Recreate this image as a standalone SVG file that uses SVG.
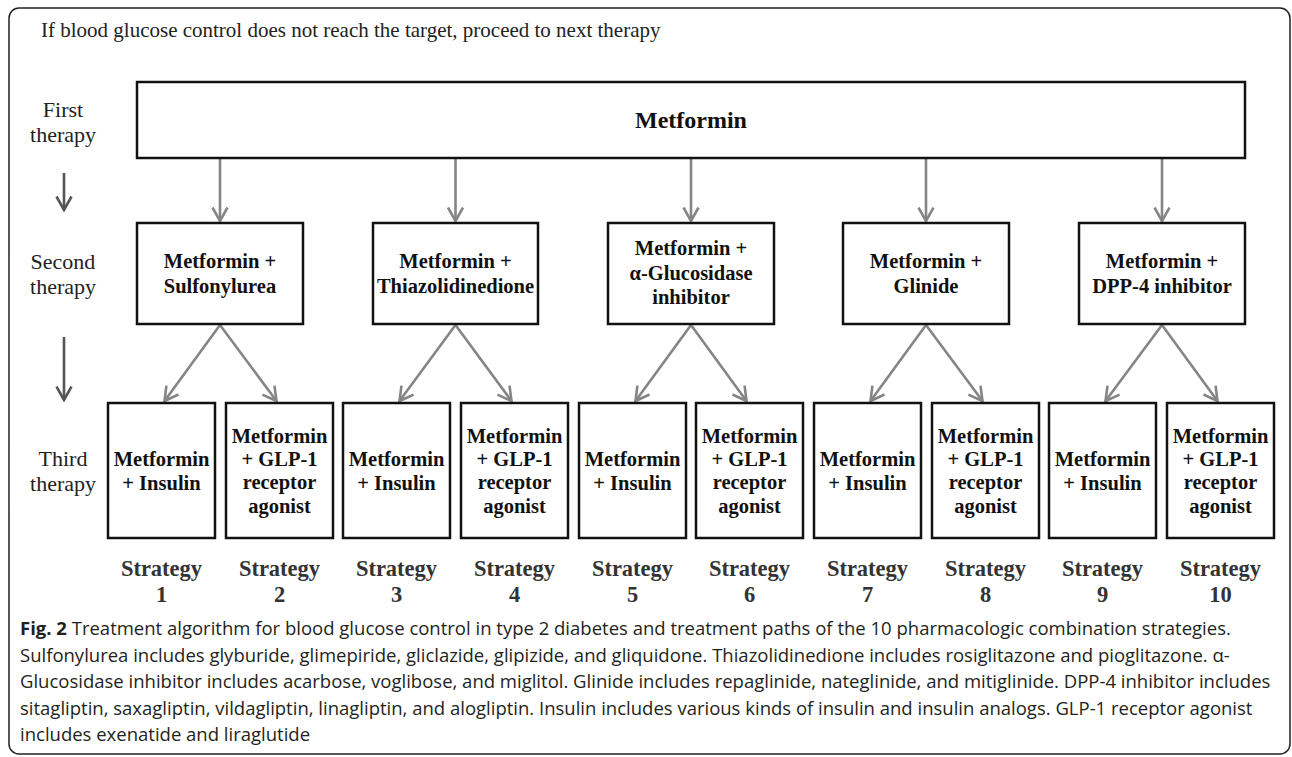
<svg xmlns="http://www.w3.org/2000/svg" width="1292" height="757" viewBox="0 0 1292 757">
<defs>
<style>
.frame{fill:none;stroke:#222;stroke-width:1.5}
.box{fill:#fff;stroke:#111;stroke-width:2.5}
.bt{font-family:"Liberation Serif","Times New Roman",serif;font-weight:bold;font-size:20.5px;fill:#111;text-anchor:middle}
.big{font-size:24px}
.lab{font-family:"Liberation Serif","Times New Roman",serif;font-size:22px;fill:#222;text-anchor:middle}
.title{font-family:"Liberation Serif","Times New Roman",serif;font-size:21px;fill:#222}
.st{font-family:"Liberation Serif","Times New Roman",serif;font-weight:bold;font-size:22.5px;fill:#333;text-anchor:middle}
.cap{font-family:"Open Sans","Noto Sans",sans-serif;font-size:18.5px;fill:#231f20}
.con{stroke:#858585;stroke-width:2.6;fill:none;marker-end:url(#ah)}
.lar{stroke:#555;stroke-width:2.6;fill:none;marker-end:url(#ahd)}
</style>
<marker id="ah" viewBox="0 0 16 18" refX="14.5" refY="9" markerWidth="16" markerHeight="18" markerUnits="userSpaceOnUse" orient="auto">
<path d="M1,1.5 L14.5,9 L1,16.5" fill="none" stroke="#858585" stroke-width="2.6"/>
</marker>
<marker id="ahd" viewBox="0 0 16 18" refX="14.5" refY="9" markerWidth="16" markerHeight="18" markerUnits="userSpaceOnUse" orient="auto">
<path d="M1,1.5 L14.5,9 L1,16.5" fill="none" stroke="#555" stroke-width="2.6"/>
</marker>
</defs>
<rect width="1292" height="757" fill="#fff"/>
<rect class="frame" x="9" y="8" width="1281" height="746" rx="10"/>
<text class="title" x="41" y="37">If blood glucose control does not reach the target, proceed to next therapy</text>
<g id="row-labels">
<text class="lab" x="63" y="117">First</text>
<text class="lab" x="63" y="142">therapy</text>
<text class="lab" x="63" y="269">Second</text>
<text class="lab" x="63" y="294">therapy</text>
<text class="lab" x="63" y="466">Third</text>
<text class="lab" x="63" y="491">therapy</text>
<path class="lar" d="M64,173 L64,210"/>
<path class="lar" d="M64,337 L64,400"/>
</g>
<g id="connectors">
<path class="con" d="M220,159 L220,221"/>
<path class="con" d="M455.5,159 L455.5,221"/>
<path class="con" d="M691,159 L691,221"/>
<path class="con" d="M926,159 L926,221"/>
<path class="con" d="M1162,159 L1162,221"/>
<path class="con" d="M220,325 L164.5,401"/>
<path class="con" d="M220,325 L276.5,401"/>
<path class="con" d="M455.5,325 L399.5,401"/>
<path class="con" d="M455.5,325 L511.5,401"/>
<path class="con" d="M691,325 L635.5,401"/>
<path class="con" d="M691,325 L746.5,401"/>
<path class="con" d="M926,325 L870.5,401"/>
<path class="con" d="M926,325 L982.5,401"/>
<path class="con" d="M1162,325 L1105.5,401"/>
<path class="con" d="M1162,325 L1217.5,401"/>
</g>
<g id="metformin">
<rect class="box" x="137" y="82" width="1108" height="76"/>
<text class="bt big" x="691" y="128">Metformin</text>
</g>
<g id="second-1">
<rect class="box" x="137" y="223" width="166" height="101"/>
<text class="bt" x="220" y="268">Metformin +</text>
<text class="bt" x="220" y="293">Sulfonylurea</text>
</g>
<g id="second-2">
<rect class="box" x="373" y="223" width="165" height="101"/>
<text class="bt" x="455.5" y="268">Metformin +</text>
<text class="bt" x="455.5" y="293">Thiazolidinedione</text>
</g>
<g id="second-3">
<rect class="box" x="608" y="223" width="166" height="101"/>
<text class="bt" x="691" y="255">Metformin +</text>
<text class="bt" x="691" y="280">α-Glucosidase</text>
<text class="bt" x="691" y="304">inhibitor</text>
</g>
<g id="second-4">
<rect class="box" x="843" y="223" width="166" height="101"/>
<text class="bt" x="926" y="268">Metformin +</text>
<text class="bt" x="926" y="293">Glinide</text>
</g>
<g id="second-5">
<rect class="box" x="1079" y="223" width="166" height="101"/>
<text class="bt" x="1162" y="268">Metformin +</text>
<text class="bt" x="1162" y="293">DPP-4 inhibitor</text>
</g>
<g id="s1"><rect class="box" x="108" y="403" width="107" height="135"/><text class="bt" x="161.5" y="466">Metformin</text><text class="bt" x="161.5" y="490">+ Insulin</text></g>
<g id="s2"><rect class="box" x="226" y="403" width="107" height="135"/><text class="bt" x="279.5" y="443">Metformin</text><text class="bt" x="279.5" y="466">+ GLP-1</text><text class="bt" x="279.5" y="489">receptor</text><text class="bt" x="279.5" y="513">agonist</text></g>
<g id="s3"><rect class="box" x="343" y="403" width="107" height="135"/><text class="bt" x="396.5" y="466">Metformin</text><text class="bt" x="396.5" y="490">+ Insulin</text></g>
<g id="s4"><rect class="box" x="461" y="403" width="107" height="135"/><text class="bt" x="514.5" y="443">Metformin</text><text class="bt" x="514.5" y="466">+ GLP-1</text><text class="bt" x="514.5" y="489">receptor</text><text class="bt" x="514.5" y="513">agonist</text></g>
<g id="s5"><rect class="box" x="579" y="403" width="107" height="135"/><text class="bt" x="632.5" y="466">Metformin</text><text class="bt" x="632.5" y="490">+ Insulin</text></g>
<g id="s6"><rect class="box" x="696" y="403" width="107" height="135"/><text class="bt" x="749.5" y="443">Metformin</text><text class="bt" x="749.5" y="466">+ GLP-1</text><text class="bt" x="749.5" y="489">receptor</text><text class="bt" x="749.5" y="513">agonist</text></g>
<g id="s7"><rect class="box" x="814" y="403" width="107" height="135"/><text class="bt" x="867.5" y="466">Metformin</text><text class="bt" x="867.5" y="490">+ Insulin</text></g>
<g id="s8"><rect class="box" x="932" y="403" width="107" height="135"/><text class="bt" x="985.5" y="443">Metformin</text><text class="bt" x="985.5" y="466">+ GLP-1</text><text class="bt" x="985.5" y="489">receptor</text><text class="bt" x="985.5" y="513">agonist</text></g>
<g id="s9"><rect class="box" x="1049" y="403" width="107" height="135"/><text class="bt" x="1102.5" y="466">Metformin</text><text class="bt" x="1102.5" y="490">+ Insulin</text></g>
<g id="s10"><rect class="box" x="1167" y="403" width="107" height="135"/><text class="bt" x="1220.5" y="443">Metformin</text><text class="bt" x="1220.5" y="466">+ GLP-1</text><text class="bt" x="1220.5" y="489">receptor</text><text class="bt" x="1220.5" y="513">agonist</text></g>
<g id="strategy-labels">
<text class="st" x="161.5" y="576">Strategy</text><text class="st" x="161.5" y="602">1</text>
<text class="st" x="279.5" y="576">Strategy</text><text class="st" x="279.5" y="602">2</text>
<text class="st" x="396.5" y="576">Strategy</text><text class="st" x="396.5" y="602">3</text>
<text class="st" x="514.5" y="576">Strategy</text><text class="st" x="514.5" y="602">4</text>
<text class="st" x="632.5" y="576">Strategy</text><text class="st" x="632.5" y="602">5</text>
<text class="st" x="749.5" y="576">Strategy</text><text class="st" x="749.5" y="602">6</text>
<text class="st" x="867.5" y="576">Strategy</text><text class="st" x="867.5" y="602">7</text>
<text class="st" x="985.5" y="576">Strategy</text><text class="st" x="985.5" y="602">8</text>
<text class="st" x="1102.5" y="576">Strategy</text><text class="st" x="1102.5" y="602">9</text>
<text class="st" x="1220.5" y="576">Strategy</text><text class="st" x="1220.5" y="602">10</text>
</g>
<g id="caption">
<text class="cap" x="20" y="635"><tspan font-weight="bold">Fig. 2</tspan> Treatment algorithm for blood glucose control in type 2 diabetes and treatment paths of the 10 pharmacologic combination strategies.</text>
<text class="cap" x="20" y="661.5">Sulfonylurea includes glyburide, glimepiride, gliclazide, glipizide, and gliquidone. Thiazolidinedione includes rosiglitazone and pioglitazone. α-</text>
<text class="cap" x="20" y="688">Glucosidase inhibitor includes acarbose, voglibose, and miglitol. Glinide includes repaglinide, nateglinide, and mitiglinide. DPP-4 inhibitor includes</text>
<text class="cap" x="20" y="714.5">sitagliptin, saxagliptin, vildagliptin, linagliptin, and alogliptin. Insulin includes various kinds of insulin and insulin analogs. GLP-1 receptor agonist</text>
<text class="cap" x="20" y="741">includes exenatide and liraglutide</text>
</g>
</svg>
